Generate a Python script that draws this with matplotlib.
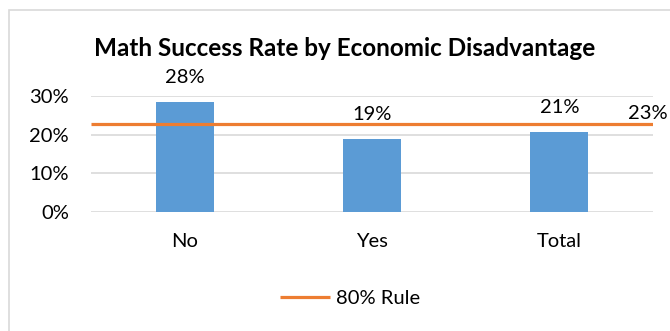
import matplotlib
matplotlib.use("Agg")
import matplotlib.pyplot as plt
from matplotlib.patches import Rectangle
from matplotlib.ticker import FuncFormatter

categories = ["No", "Yes", "Total"]
success_rate = [0.284, 0.189, 0.207]
rule_80 = 0.227
rule_label = "23%"
bar_labels = ["28%", "19%", "21%"]
y_ticks = [0.0, 0.1, 0.2, 0.3]

plt.rcParams['font.family'] = ['Lato', 'DejaVu Sans']

W, H = 670, 331
FS = 14.5
fig = plt.figure(figsize=(W / 100, H / 100), dpi=100)
fig.patch.set_facecolor("white")

# chart border (extends beyond right/bottom edges like the reference crop)
fig.patches.append(Rectangle((9 / W, -0.1), 1.2, 1 - 10 / H + 0.1,
                             transform=fig.transFigure, fill=False,
                             edgecolor="#d9d9d9", linewidth=1.2))

ax = fig.add_axes([91 / W, 119 / H, 562 / W, 116 / H])
x = range(len(categories))
ax.bar(x, success_rate, width=0.31, color="#5b9bd5", zorder=2)
ax.set_xlim(-0.5, len(categories) - 0.5)
ax.set_ylim(0, 0.3)
ax.set_yticks(y_ticks)
ax.yaxis.set_major_formatter(FuncFormatter(lambda v, p: f"{v*100:.0f}%"))
ax.grid(axis="y", color="#d9d9d9", linewidth=1.2, zorder=0)
ax.set_axisbelow(True)
for s in ax.spines.values():
    s.set_visible(False)
ax.tick_params(axis="both", length=0, labelsize=FS, colors="black")
ax.tick_params(axis="y", pad=16)
ax.tick_params(axis="x", pad=15)
ax.set_xticks(list(x))
ax.set_xticklabels(categories)

line, = ax.plot([-0.5, len(categories) - 0.5], [rule_80, rule_80],
                color="#ed7d31", linewidth=2.3, zorder=3, label="80% Rule",
                solid_capstyle="butt")

for xi, v, lab in zip(x, success_rate, bar_labels):
    ax.annotate(lab, (xi, v), xytext=(0, 17.5), textcoords="offset points",
                ha="center", va="center", fontsize=FS, annotation_clip=False)

ax.annotate(rule_label, (len(categories) - 0.5, rule_80), xytext=(-18, 8),
            textcoords="offset points", ha="left", va="center", fontsize=FS,
            annotation_clip=False)

fig.text(345 / W, 1 - 48 / H, "Math Success Rate by Economic Disadvantage",
         ha="center", va="center", fontsize=17.5, fontweight="bold")

fig.legend(handles=[line], loc="center", bbox_to_anchor=(350 / W, 1 - 298 / H),
           frameon=False, fontsize=FS, handlelength=2.5, handletextpad=0.3)

fig.savefig("out.png", dpi=100, facecolor="white")
